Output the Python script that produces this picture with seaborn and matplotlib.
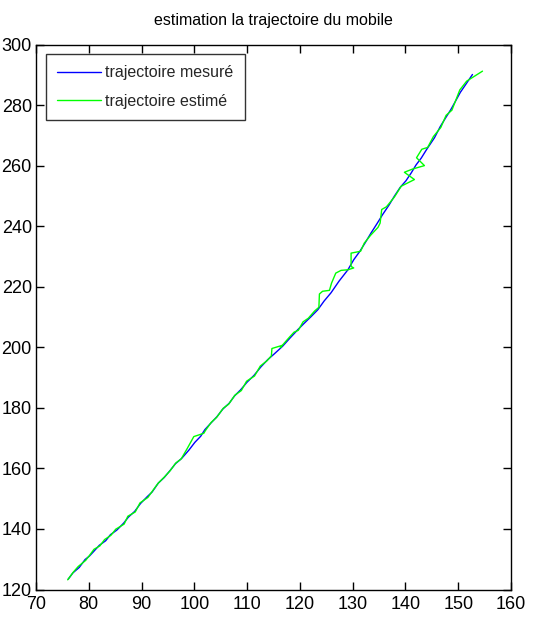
import matplotlib
matplotlib.use("Agg")
import matplotlib.pyplot as plt
import matplotlib.font_manager as fm
import seaborn as sns
import pandas as pd

# ---- data ----
x_mesure = [76.1, 77.0, 78.2, 79.3, 80.1, 80.9, 82.0, 83.2, 84.1, 85.3, 86.6, 87.5, 88.7, 89.8,
            91.1, 92.0, 93.2, 94.3, 95.5, 96.4, 97.6, 99.0, 100.1, 101.2, 102.0, 103.1, 104.3,
            105.4, 106.6, 107.6, 108.8, 110.0, 111.3, 112.6, 113.9, 115.2, 116.7, 118.1, 119.6,
            120.8, 122.1, 123.4, 124.6, 125.9, 127.4, 129.1, 130.2, 131.4, 132.4, 133.5, 134.6,
            135.7, 136.9, 137.9, 139.0, 140.1, 141.1, 142.0, 143.0, 144.0, 145.5, 146.6, 147.8,
            148.6, 149.3, 150.4, 151.5, 152.7]
y_mesure = [123.4, 125.5, 127.3, 129.9, 131.0, 132.5, 134.6, 136.1, 138.1, 139.6, 141.9, 143.9,
            145.8, 148.4, 150.7, 152.2, 155.2, 157.0, 159.5, 161.5, 163.3, 166.1, 168.6, 170.6,
            172.8, 174.9, 177.1, 179.6, 181.5, 183.9, 186.0, 188.5, 190.7, 193.5, 195.9, 197.9,
            200.3, 203.0, 205.8, 207.9, 210.1, 212.4, 215.3, 218.0, 221.8, 225.6, 228.9, 231.8,
            234.6, 237.8, 240.8, 243.9, 247.0, 249.9, 252.8, 255.0, 257.6, 260.2, 262.5, 265.3,
            269.2, 272.9, 276.3, 278.5, 280.7, 284.2, 287.0, 290.1]

x_estime = [76.0, 77.1, 78.0, 79.4, 80.2, 81.0, 82.1, 83.0, 84.2, 85.1, 86.7, 87.4, 88.8, 89.7,
            91.2, 92.1, 93.1, 94.4, 95.4, 96.5, 97.5, 98.6, 99.9, 101.8, 102.1, 103.2, 104.2,
            105.5, 106.5, 107.7, 108.9, 109.9, 111.4, 112.5, 113.8, 114.6, 114.7, 116.6, 116.3,
            118.0, 118.9, 119.7, 120.6, 121.6, 122.8, 123.6, 123.7, 124.3, 125.6, 126.0, 126.8,
            127.8, 129.1, 130.2, 129.7, 129.7, 131.5, 132.2, 133.4, 134.8, 135.2, 135.5, 136.4,
            137.9, 139.2, 141.7, 139.8, 141.4, 143.6, 142.1, 143.1, 144.2, 145.3, 146.7, 147.7,
            148.8, 150.3, 151.6, 154.6]
y_estime = [123.2, 125.8, 127.6, 129.6, 131.4, 133.3, 134.4, 136.5, 137.9, 139.9, 141.6, 144.2,
            145.6, 148.6, 150.4, 152.6, 155.0, 157.3, 159.2, 161.8, 163.1, 166.4, 170.5, 171.6,
            172.5, 175.2, 176.8, 179.9, 181.2, 184.2, 185.7, 188.8, 190.5, 193.8, 195.6, 197.2,
            199.6, 200.6, 199.9, 203.3, 205.0, 205.6, 208.4, 209.6, 212.0, 213.2, 217.6, 218.5,
            218.8, 221.2, 224.5, 225.4, 225.6, 226.2, 226.7, 231.1, 231.7, 234.4, 237.0, 239.6,
            241.0, 245.5, 246.4, 249.6, 253.2, 255.4, 257.8, 258.9, 260.0, 262.6, 265.4, 266.0,
            269.6, 272.6, 276.6, 278.3, 285.0, 287.9, 291.2]

x_ticks = [70, 80, 90, 100, 110, 120, 130, 140, 150, 160]
y_ticks = [120, 140, 160, 180, 200, 220, 240, 260, 280, 300]
title = "estimation la trajectoire du mobile"
labels = ["trajectoire mesuré", "trajectoire estimé"]

# ---- style ----
sns.set_style("ticks")
names = {f.name for f in fm.fontManager.ttflist}
fam = ["Liberation Sans Narrow", "DejaVu Sans"] if "Liberation Sans Narrow" in names else ["Liberation Sans", "DejaVu Sans"]
plt.rcParams["font.family"] = fam

fig = plt.figure(figsize=(5.37, 6.17), dpi=100, facecolor="white")
ax = fig.add_axes([36 / 537, 1 - 589.5 / 617, (511 - 36) / 537, (589.5 - 44.5) / 617])
ax.set_facecolor("white")

df_m = pd.DataFrame({"x": x_mesure, "y": y_mesure})
df_e = pd.DataFrame({"x": x_estime, "y": y_estime})

sns.lineplot(data=df_m, x="x", y="y", sort=False, estimator=None, color=(0, 0, 1),
             lw=1.0, ax=ax, label=labels[0])
sns.lineplot(data=df_e, x="x", y="y", sort=False, estimator=None, color=(0, 1, 0),
             lw=1.0, ax=ax, label=labels[1])

ax.set_xlim(70, 160)
ax.set_ylim(120, 300)
ax.set_xticks(x_ticks)
ax.set_yticks(y_ticks)
ax.set_xlabel("")
ax.set_ylabel("")
ax.tick_params(direction="in", length=6, width=1, top=True, right=True,
               labelsize=13, colors="black")
ax.tick_params(axis="x", pad=5)
ax.tick_params(axis="y", pad=3)
for s in ax.spines.values():
    s.set_visible(True)
    s.set_linewidth(1.0)
    s.set_color("black")

ax.set_title(title, fontsize=11.5, pad=14, color="black")

leg = ax.legend(loc="upper left", bbox_to_anchor=(0.02, 0.982), frameon=True, fancybox=False,
                edgecolor="black", fontsize=11.5, handlelength=2.8, handletextpad=0.25,
                borderpad=0.7, labelspacing=0.85, borderaxespad=0.0)
leg.get_frame().set_linewidth(1.0)

fig.savefig("out.png", dpi=100, facecolor="white")
